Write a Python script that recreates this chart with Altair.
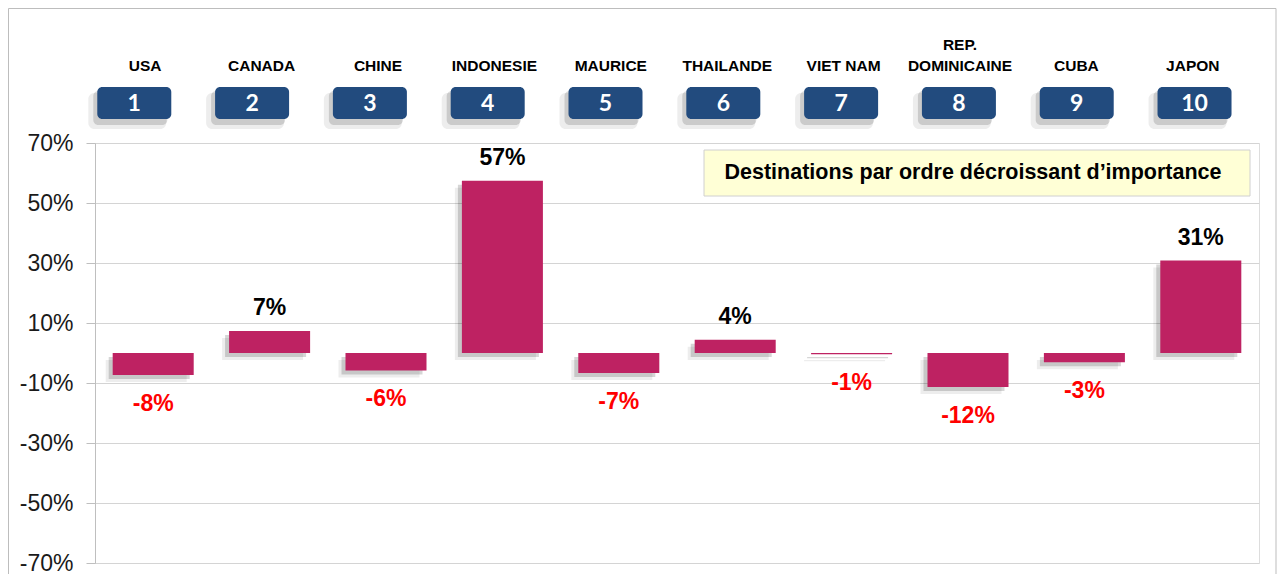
import altair as alt
import pandas as pd

# ---- data ----
rangs = [1, 2, 3, 4, 5, 6, 7, 8, 9, 10]
pays = ["USA", "CANADA", "CHINE", "INDONESIE", "MAURICE", "THAILANDE",
        "VIET NAM", "REP.\nDOMINICAINE", "CUBA", "JAPON"]
variation = [-7.3, 7.3, -5.8, 57.4, -6.7, 4.4, -0.4, -11.3, -3.1, 30.8]
etiquettes = ["-8%", "7%", "-6%", "57%", "-7%", "4%", "-1%", "-12%", "-3%", "31%"]
y_ticks = [-70, -50, -30, -10, 10, 30, 50, 70]
legende = "Destinations par ordre décroissant d\u2019importance"

df = pd.DataFrame({"rang": rangs, "pays": pays, "var": variation, "lab": etiquettes})
one = pd.DataFrame({"t": [legende]})

FONT = "Liberation Sans"
BAR = "#BE2262"
BADGE = "#224B7E"

W, H = 1164, 420

bar_scale = alt.Scale(type="band", domain=rangs, paddingInner=0.304, paddingOuter=0.152)
badge_scale = alt.Scale(type="band", domain=rangs, paddingInner=0.372,
                        paddingOuter=0.1264, align=0.077)

yenc = alt.Y("var:Q",
             scale=alt.Scale(domain=[-70, 70], nice=False, zero=True),
             axis=alt.Axis(values=y_ticks, title=None, labelExpr="datum.value + '%'",
                           labelFont=FONT, labelFontSize=23, labelColor="#1a1a1a",
                           labelPadding=13, tickSize=9, tickColor="#BFBFBF",
                           domainColor="#BFBFBF", gridColor="#D4D4D4",
                           grid=True, labelFlush=False))

base = alt.Chart(df)
xb = alt.X("rang:O", scale=bar_scale, axis=None)
xg = alt.X("rang:O", scale=badge_scale, axis=None)

# frame around the whole chart
frame = alt.Chart(one).mark_rect(fill=None, stroke="#BDBDBD", strokeWidth=1).encode(
    x=alt.value(-86.5), x2=alt.value(W + 17), y=alt.value(-134.5), y2=alt.value(H + 60))

shadow2 = base.mark_bar(color="#000000", opacity=0.07, xOffset=-7, x2Offset=-7,
                        yOffset=7, y2Offset=7).encode(x=xb, y=yenc, y2=alt.datum(0))
shadow1 = base.mark_bar(color="#000000", opacity=0.16, xOffset=-4, x2Offset=-4,
                        yOffset=4, y2Offset=4).encode(x=xb, y="var:Q", y2=alt.datum(0))
bars = base.mark_bar(color=BAR).encode(x=xb, y="var:Q", y2=alt.datum(0))

pos_lab = base.transform_filter("datum.var >= 0").mark_text(
    font=FONT, fontSize=23, fontWeight="bold", color="#000000",
    baseline="alphabetic", dy=-16).encode(x=xb, y="var:Q", text="lab:N")
neg_lab = base.transform_filter("datum.var < 0").mark_text(
    font=FONT, fontSize=23, fontWeight="bold", color="#FF0000",
    baseline="alphabetic", dy=36).encode(x=xb, y="var:Q", text="lab:N")

# country names above badges
noms1 = base.transform_filter("indexof(datum.pays, '\\n') < 0").mark_text(
    font=FONT, fontSize=15.5, fontWeight="bold", color="#000000",
    baseline="alphabetic", dx=-8).encode(x=xb, y=alt.value(-72.3), text="pays:N")
noms2 = base.transform_filter("indexof(datum.pays, '\\n') >= 0").mark_text(
    font=FONT, fontSize=15.5, fontWeight="bold", color="#000000",
    baseline="alphabetic", lineBreak="\n", lineHeight=20.5, dx=-8).encode(
    x=xb, y=alt.value(-92.8), text="pays:N")

# numbered badges
badge_sh2 = base.mark_bar(color="#000000", opacity=0.07, cornerRadius=6, size=78,
                          xOffset=-7, x2Offset=-7).encode(
    x=xg, y=alt.value(-50), y2=alt.value(-14))
badge_sh = base.mark_bar(color="#000000", opacity=0.14, cornerRadius=5, size=74,
                         xOffset=-4, x2Offset=-4).encode(
    x=xg, y=alt.value(-52), y2=alt.value(-18))
badges = base.mark_bar(color=BADGE, cornerRadius=5, size=74).encode(
    x=xg, y=alt.value(-56), y2=alt.value(-24))
nums = base.mark_text(font="Lato", fontSize=23, fontWeight="bold", color="white",
                      baseline="middle").encode(x=xg, y=alt.value(-39), text="rang:N")

# legend box
box = alt.Chart(one).mark_rect(fill="#FFFFD6", stroke="#D0D0D0", strokeWidth=1).encode(
    x=alt.value(609), x2=alt.value(1155), y=alt.value(7), y2=alt.value(53))
box_t = alt.Chart(one).mark_text(font=FONT, fontSize=21.5, fontWeight="bold",
                                 color="#000000", baseline="middle", align="center").encode(
    x=alt.value(878), y=alt.value(30), text="t:N")

chart = alt.layer(
    frame, shadow2, shadow1, bars, pos_lab, neg_lab, noms1, noms2,
    badge_sh2, badge_sh, badges, nums, box, box_t
).resolve_scale(x="independent").properties(
    width=W, height=H,
    autosize=alt.AutoSizeParams(type="none"),
    padding={"left": 87, "top": 135, "right": 18, "bottom": 12},
).configure_view(stroke=None).configure(background="white")

chart.save("out.html", embed_options={"renderer": "svg", "actions": False})
